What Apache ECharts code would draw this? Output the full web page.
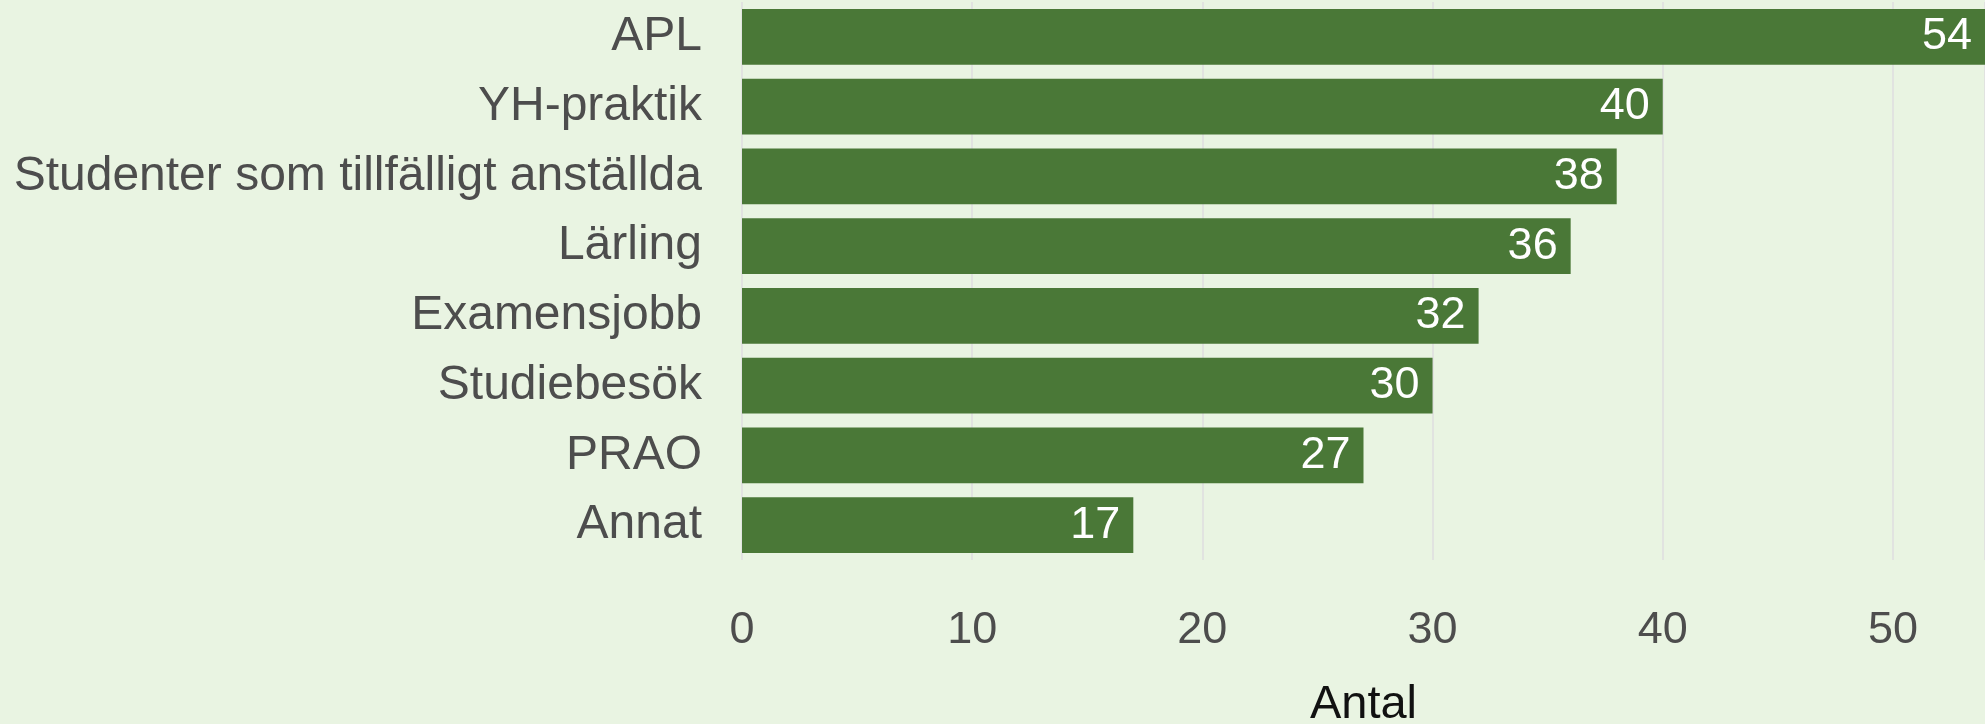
<!DOCTYPE html>
<html>
<head>
<meta charset="utf-8">
<script src="https://cdn.jsdelivr.net/npm/echarts@6/dist/echarts.min.js"></script>
<style>
html,body{margin:0;padding:0;background:#E9F4E2;}
#c{width:1985px;height:724px;}
</style>
</head>
<body>
<div id="c"></div>
<script>
const categories = ['APL','YH-praktik','Studenter som tillfälligt anställda','Lärling','Examensjobb','Studiebesök','PRAO','Annat'];
const values = [54,40,38,36,32,30,27,17];
const xTicks = [0,10,20,30,40,50];

const chart = echarts.init(document.getElementById('c'));
chart.setOption({
  backgroundColor:'#E9F4E2',
  animation:false,
  grid:{left:742,right:0,top:2,bottom:164,containLabel:false,outerBoundsMode:'none'},
  xAxis:{
    type:'value',min:0,max:54,interval:10,
    name:'Antal',nameLocation:'middle',nameGap:122,
    nameTextStyle:{fontFamily:'Liberation Sans',fontSize:47,color:'#111'},
    axisLine:{show:false},axisTick:{show:false},
    axisLabel:{fontFamily:'Liberation Sans',fontSize:45,color:'#4D4D4D',margin:48,showMaxLabel:false,
      formatter:v=>xTicks.indexOf(v)>=0?String(v):''},
    splitLine:{show:true,lineStyle:{color:'#E1E3E0',width:2}}
  },
  yAxis:{
    type:'category',data:categories,inverse:true,
    axisLine:{show:false},axisTick:{show:false},
    axisLabel:{fontFamily:'Liberation Sans',fontSize:48,color:'#4D4D4D',margin:40}
  },
  series:[{
    type:'bar',data:values,barCategoryGap:'20%',
    itemStyle:{color:'#4A7837'},
    label:{show:true,position:'insideRight',distance:13,color:'#fff',fontFamily:'Liberation Sans',fontSize:45}
  }]
});
</script>
</body>
</html>
